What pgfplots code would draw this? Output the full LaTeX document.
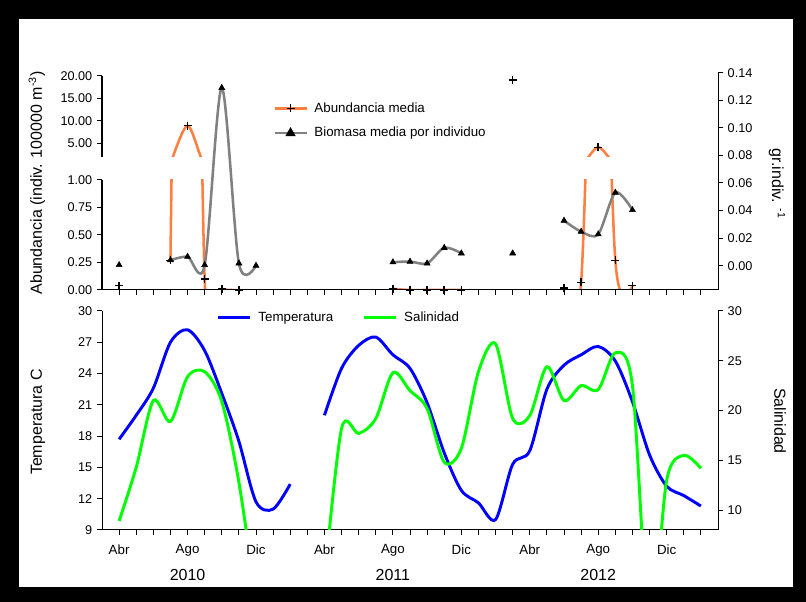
\documentclass[border=0pt]{standalone}
\usepackage{fontspec}
\setmainfont{Liberation Sans}
\usepackage{pgfplots}
\pgfplotsset{compat=1.18}
\definecolor{orng}{HTML}{FF7F40}
\definecolor{gry}{HTML}{808080}
\definecolor{blu}{HTML}{0000FF}
\definecolor{grn}{HTML}{00FF00}
\pgfplotsset{
  legend image code/.code={\draw[mark repeat=2,mark phase=2,#1] plot coordinates {(0pt,0pt) (12pt,0pt) (24pt,0pt)};},
  mybase/.style={scale only axis, width=462pt, xmin=-1, xmax=35, clip mode=individual,
    tick align=outside, major tick length=3.75pt,
    axis line style={black, line width=0.75pt}, tick style={black, line width=0.75pt},
    ticklabel style={font=\fontsize{9.5}{11}\selectfont, black},
    label style={font=\fontsize{12}{14}\selectfont},
    /pgf/number format/assume math mode=true},
  crossmk/.style={only marks, mark=+, mark size=3pt, mark options={black, line width=1.1pt}},
  trimk/.style={only marks, mark=triangle*, mark size=2.6pt, mark options={black}},
}
\begin{document}
\begin{tikzpicture}
\fill[black] (0pt,0pt) rectangle (604.5pt,451.5pt);
\fill[white] (14.25pt,11.25pt) rectangle (594.75pt,437.25pt);

% ---------- TOP PANEL: lower segment of abundance axis (0 - 1)
\begin{axis}[mybase, at={(76.5pt,234pt)}, anchor=south west, height=82.5pt,
  ymin=0, ymax=1, axis x line=none, axis y line*=left,
  ytick={0,0.25,0.5,0.75,1}, yticklabels={0.00,0.25,0.50,0.75,1.00},
  ylabel={Abundancia (indiv. 100000 m\textsuperscript{-3})},
  ylabel style={at={(axis description cs:-0.1055,0.973)}, anchor=center}]
\addplot[orng, line width=1.9pt, smooth] coordinates {(3,0.27)(4,8.9)(5,0.10)(6,0.01)(7,0.00)};
\addplot[orng, line width=1.9pt, smooth] coordinates {(16,0.01)(17,0.00)(18,0.00)(19,0.00)(20,0.00)};
\addplot[orng, line width=1.9pt, smooth] coordinates {(26,0.02)(27,0.07)(28,4.1)(29,0.27)(30,0.04)};
\addplot[crossmk] coordinates {(0,0.04)(3,0.27)(5,0.10)(6,0.01)(7,0.00)(16,0.01)(17,0.00)(18,0.00)(19,0.00)(20,0.00)(26,0.02)(27,0.07)(29,0.27)(30,0.04)};
\end{axis}

% ---------- TOP PANEL: upper segment of abundance axis (2 - 20)
\begin{axis}[mybase, at={(76.5pt,334pt)}, anchor=south west, height=60.5pt,
  ymin=2, ymax=20, axis x line=none, axis y line*=left,
  ytick={5,10,15,20}, yticklabels={5.00,10.00,15.00,20.00}]
\addplot[orng, line width=1.9pt, smooth] coordinates {(3,0.27)(4,8.9)(5,0.10)(6,0.01)(7,0.00)};
\addplot[orng, line width=1.9pt, smooth] coordinates {(26,0.02)(27,0.07)(28,4.1)(29,0.27)(30,0.04)};
\addplot[crossmk] coordinates {(4,8.9)(23,19.1)(28,4.1)};
\end{axis}

% ---------- TOP PANEL: biomass (right axis)
\begin{axis}[mybase, at={(76.5pt,234pt)}, anchor=south west, height=163pt,
  ymin=-0.01763, ymax=0.14, axis x line*=bottom, axis y line*=right,
  xtick={0,...,34}, xticklabels={,,},
  ytick={0,0.02,0.04,0.06,0.08,0.10,0.12,0.14},
  yticklabels={0.00,0.02,0.04,0.06,0.08,0.10,0.12,0.14},
  ylabel={gr.indiv. \textsuperscript{-1}},
  ylabel style={at={(axis description cs:1.0958,0.488)}, anchor=center, rotate=180},
  legend style={at={(axis description cs:0.2776,0.7787)}, anchor=west, draw=none, fill=none,
    inner sep=0pt, font=\fontsize{10}{12}\selectfont, row sep=9pt, column sep=5pt,
    cells={anchor=west}, nodes={inner sep=0pt, text height=7.5pt, text depth=2pt}}]
\addlegendimage{orng, line width=1.9pt, mark=+, mark size=3pt, mark options={black, line width=1.1pt}}
\addlegendentry{Abundancia media}
\addlegendimage{gry, line width=1.9pt, mark=triangle*, mark size=2.6pt, mark options={black}}
\addlegendentry{Biomasa media por individuo}
\addplot[gry, line width=1.9pt, smooth, forget plot] coordinates {(3,0.004)(4,0.0065)(5,0.0005)(6,0.129)(7,0.0017)(8,0.0)};
\addplot[gry, line width=1.9pt, smooth, forget plot] coordinates {(16,0.0025)(17,0.003)(18,0.0017)(19,0.013)(20,0.009)};
\addplot[gry, line width=1.9pt, smooth, forget plot] coordinates {(26,0.0327)(27,0.0247)(28,0.0228)(29,0.053)(30,0.0404)};
\addplot[trimk, forget plot] coordinates {(0,0.0005)(3,0.004)(4,0.0065)(5,0.0005)(6,0.129)(7,0.0017)(8,0.0)(16,0.0025)(17,0.003)(18,0.0017)(19,0.013)(20,0.009)(23,0.009)(26,0.0327)(27,0.0247)(28,0.0228)(29,0.053)(30,0.0404)};
\end{axis}

% ---------- BOTTOM PANEL: temperature
\begin{axis}[mybase, at={(76.5pt,54pt)}, anchor=south west, height=164.25pt,
  ymin=9, ymax=30, axis x line*=bottom, axis y line*=left,
  xtick={0,...,34},
  xticklabels={Abr,,,,Ago,,,,Dic,,,,Abr,,,,Ago,,,,Dic,,,,Abr,,,,Ago,,,,Dic,,},
  xticklabel style={font=\fontsize{10}{12}\selectfont, yshift=-3.75pt},
  ytick={9,12,15,18,21,24,27,30},
  yticklabels={9,12,15,18,21,24,27,30},
  ylabel={Temperatura C},
  ylabel style={at={(axis description cs:-0.104,0.493)}, anchor=center},
  legend columns=2,
  legend style={at={(axis description cs:0.1860,0.9694)}, anchor=west, draw=none, fill=none,
    inner sep=0pt, font=\fontsize{10}{12}\selectfont, column sep=5pt,
    /tikz/every even column/.append style={column sep=22pt},
    nodes={inner sep=0pt}}]
\addlegendimage{blu, line width=2.2pt}
\addlegendentry{Temperatura}
\addlegendimage{grn, line width=2.2pt}
\addlegendentry{Salinidad}
\addplot[blu, line width=2.2pt, smooth, forget plot] coordinates {(0,17.7)(1,20.0)(2,22.6)(3,27.0)(4,28.2)(5,26.2)(6,22.1)(7,17.5)(8,11.7)(9,11.0)(10,13.4)};
\addplot[blu, line width=2.2pt, smooth, forget plot] coordinates {(12,20.0)(13,24.5)(14,26.7)(15,27.5)(16,25.8)(17,24.5)(18,21.2)(19,16.4)(20,12.8)(21,11.6)(22,10.0)(23,15.3)(24,16.6)(25,22.5)(26,24.8)(27,25.8)(28,26.6)(29,25.2)(30,21.3)(31,16.2)(32,13.2)(33,12.3)(34,11.3)};
\node[font=\fontsize{12}{14}\selectfont, yshift=-33.75pt] at (axis cs:4,9) {2010};
\node[font=\fontsize{12}{14}\selectfont, yshift=-33.75pt] at (axis cs:16,9) {2011};
\node[font=\fontsize{12}{14}\selectfont, yshift=-33.75pt] at (axis cs:28,9) {2012};
\end{axis}

% ---------- BOTTOM PANEL: salinity
\begin{axis}[mybase, at={(76.5pt,54pt)}, anchor=south west, height=164.25pt,
  ymin=8, ymax=30, axis x line=none, axis y line*=right,
  ytick={10,15,20,25,30}, yticklabels={10,15,20,25,30},
  ylabel={Salinidad},
  ylabel style={at={(axis description cs:1.1006,0.498)}, anchor=center, rotate=180}]
\addplot[grn, line width=2.2pt, smooth] coordinates {(0,8.9)(1,14.3)(2,21.0)(3,18.9)(4,23.4)(5,23.9)(6,20.9)(7,12.8)(8,1)};
\addplot[grn, line width=2.2pt, smooth] coordinates {(12,3)(13,18.2)(14,17.7)(15,19.2)(16,23.8)(17,22.0)(18,20.2)(19,14.8)(20,16.2)(21,23.9)(22,26.7)(23,19.2)(24,19.5)(25,24.4)(26,21.0)(27,22.5)(28,22.1)(29,25.8)(30,22.5)(31,-2)(32,13)(33,15.5)(34,14.2)};
\end{axis}
\end{tikzpicture}
\end{document}
